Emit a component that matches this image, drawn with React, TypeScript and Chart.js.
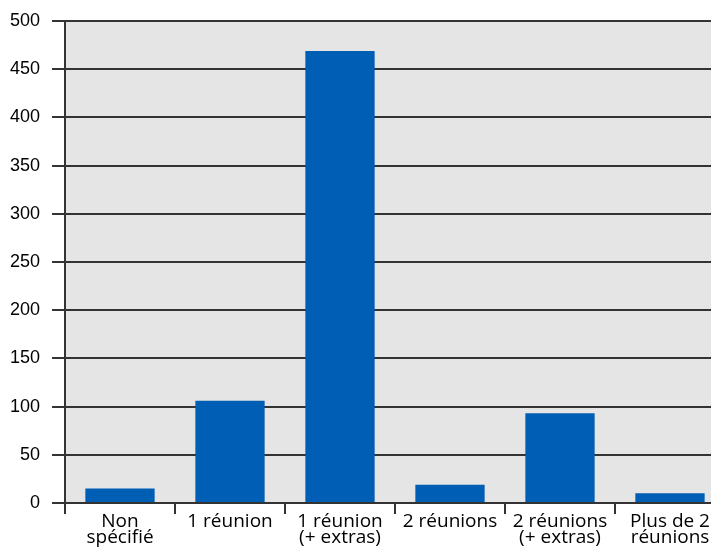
import React, { useEffect, useRef } from "react";
import { Chart, registerables } from "chart.js";

Chart.register(...registerables);

const categories: string[][] = [
  ["Non", "spécifié"],
  ["1 réunion"],
  ["1 réunion", "(+ extras)"],
  ["2 réunions"],
  ["2 réunions", "(+ extras)"],
  ["Plus de 2", "réunions"],
];
const values: number[] = [15, 106, 469, 19, 93, 10];
const yMin = 0;
const yMax = 500;
const yStep = 50;

const bgPlugin = {
  id: "plotBg",
  beforeDraw(chart: any) {
    const { ctx, chartArea } = chart;
    ctx.save();
    ctx.fillStyle = "#e5e5e5";
    ctx.fillRect(chartArea.left, chartArea.top, chartArea.right - chartArea.left, chartArea.bottom - chartArea.top);
    ctx.restore();
  },
};

export default function App() {
  const ref = useRef<HTMLCanvasElement>(null);
  useEffect(() => {
    const chart = new Chart(ref.current!, {
      type: "bar",
      data: {
        labels: categories,
        datasets: [
          {
            data: values,
            backgroundColor: "#005eb5",
            barPercentage: 0.63,
            categoryPercentage: 1,
          },
        ],
      },
      options: {
        animation: false,
        responsive: false,
        layout: { padding: { top: 14, left: 0, right: 0, bottom: 0 } },
        plugins: { legend: { display: false }, tooltip: { enabled: false } },
        scales: {
          x: {
            offset: true,
            grid: {
              offset: true,
              drawOnChartArea: false,
              drawTicks: true,
              tickLength: 11,
              color: "#333",
              lineWidth: 2,
            },
            border: { display: true, color: "#333", width: 2 },
            ticks: {
              color: "#000",
              font: { family: "'Open Sans', 'Noto Sans', sans-serif", size: 19, lineHeight: 0.82 },
              padding: 0,
              maxRotation: 0,
              autoSkip: false,
            },
            afterFit(scale: any) {
              scale.height = 53;
            },
          },
          y: {
            min: yMin,
            max: yMax,
            grid: { color: "#333", lineWidth: 2, tickLength: 13 },
            border: { display: true, color: "#333", width: 2 },
            ticks: {
              stepSize: yStep,
              color: "#000",
              padding: 12,
              font: { family: "'Liberation Sans', Arial, sans-serif", size: 18, lineHeight: 1 },
            },
            afterFit(scale: any) {
              scale.width = 65;
            },
          },
        },
      },
      plugins: [bgPlugin],
    });
    return () => chart.destroy();
  }, []);
  return (
    <div style={{ margin: -8, width: 719, height: 556, overflow: "hidden", background: "#fff" }}>
      <canvas ref={ref} width={725} height={556} style={{ display: "block" }} />
    </div>
  );
}
